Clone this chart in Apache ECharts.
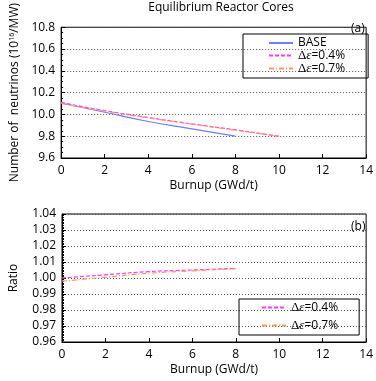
<!DOCTYPE html>
<html><head><meta charset="utf-8">
<script src="https://cdn.jsdelivr.net/npm/echarts@6/dist/echarts.min.js"></script>
<style>html,body{margin:0;padding:0;background:#fff}#c{width:376px;height:381px}</style>
</head><body><div id="c"></div>
<script>
const burnupBase = [0, 2, 4, 6, 8];
const burnupExt = [0, 2, 4, 6, 8, 10];
const baseVals = [10.105, 10.02, 9.935, 9.868, 9.80];
const d04Vals = [10.11, 10.035, 9.972, 9.913, 9.858, 9.80];
const d07Vals = [10.10, 10.03, 9.968, 9.910, 9.855, 9.80];
const ratioX = [0, 2, 4, 6, 8];
const ratio04 = [1.000, 1.002, 1.004, 1.005, 1.006];
const ratio07 = [0.998, 1.0005, 1.003, 1.0045, 1.0058];
const xTicks = [0, 2, 4, 6, 8, 10, 12, 14];

const pair = (xs, ys) => xs.map((x, i) => [x, ys[i]]);
const FONT = 'Open Sans';
const cBase = '#6f7dff', c04 = '#ff3cff', c07 = '#ff9a60';
const rich = {
  n: {fontFamily: FONT, fontSize: 12, color: '#000', lineHeight: 12},
  d: {fontFamily: 'Liberation Serif', fontSize: 13, color: '#000', lineHeight: 12},
  e: {fontFamily: 'Liberation Serif', fontSize: 13, fontStyle: 'italic', color: '#000', lineHeight: 12}
};
const legendFmt = name => name === 'BASE' ? '{n|BASE}' : '{d|Δ}{e|ε}{n|' + name.slice(2) + '}';

const xAxisCommon = (gi) => ({
  gridIndex: gi, type: 'value', min: 0, max: 14, interval: 2,
  name: 'Burnup (GWd/t)', nameLocation: 'middle', nameGap: 22,
  nameTextStyle: {fontFamily: FONT, fontSize: 12, color: '#000'},
  axisLine: {lineStyle: {color: '#000'}},
  axisTick: {inside: true, length: 4, lineStyle: {color: '#000'}},
  axisLabel: {fontFamily: FONT, fontSize: 12, color: '#000', margin: 7},
  splitLine: {show: false}
});

const chart = echarts.init(document.getElementById('c'));
chart.setOption({
  animation: false,
  title: {text: 'Equilibrium Reactor Cores', left: 216, textAlign: 'center', top: -3,
    textStyle: {fontFamily: FONT, fontSize: 12, fontWeight: 'normal', color: '#000'}},
  grid: [
    {left: 61, right: 8, top: 16, height: 142, show: true, borderColor: '#000', borderWidth: 1},
    {left: 61, right: 8, top: 214, height: 128, show: true, borderColor: '#000', borderWidth: 1}
  ],
  xAxis: [xAxisCommon(0), xAxisCommon(1)],
  yAxis: [
    {gridIndex: 0, type: 'value', min: 9.6, max: 10.8, interval: 0.2,
     name: '{n|Number of  neutrinos (10}{s|16}{n|/MW)}', nameLocation: 'middle', nameGap: 40,
     nameTextStyle: {rich: {n: {fontFamily: FONT, fontSize: 12, color: '#000'}, s: {fontFamily: FONT, fontSize: 7, color: '#000', verticalAlign: 'top', padding: [0,0,6,0]}}},
     axisLine: {lineStyle: {color: '#000'}},
     axisTick: {inside: true, length: 4, lineStyle: {color: '#000'}},
     minorTick: {show: true, splitNumber: 4, length: 2, lineStyle: {color: '#000'}},
     axisLabel: {fontFamily: FONT, fontSize: 12, color: '#000', margin: 6, formatter: v => v.toFixed(1)},
     splitLine: {show: true, lineStyle: {color: '#555', type: [1, 2], width: 1}}},
    {gridIndex: 1, type: 'value', min: 0.96, max: 1.04, interval: 0.01,
     name: 'Ratio', nameLocation: 'middle', nameGap: 42,
     nameTextStyle: {fontFamily: FONT, fontSize: 12, color: '#000'},
     axisLine: {lineStyle: {color: '#000'}},
     axisTick: {inside: true, length: 4, lineStyle: {color: '#000'}},
     minorTick: {show: true, splitNumber: 10, length: 2, lineStyle: {color: '#000'}},
     axisLabel: {fontFamily: FONT, fontSize: 12, color: '#000', margin: 6, formatter: v => v.toFixed(2)},
     splitLine: {show: true, lineStyle: {color: '#555', type: [1, 2], width: 1}}}
  ],
  legend: [
    {data: ['BASE', 'Δε=0.4%', 'Δε=0.7%'], left: 243, top: 34, orient: 'vertical',
     itemWidth: 24, itemHeight: 12, itemGap: 0, padding: [3, 23, 3, 25],
     itemStyle: {opacity: 0},
     borderColor: '#000', borderWidth: 1, formatter: legendFmt, textStyle: {rich}},
    {data: ['Δε=0.4%', 'Δε=0.7%'], left: 239, top: 299, orient: 'vertical',
     itemWidth: 24, itemHeight: 12, itemGap: 5, padding: [2, 21, 3, 22],
     itemStyle: {opacity: 0},
     borderColor: '#000', borderWidth: 1, formatter: legendFmt, textStyle: {rich}}
  ],
  series: [
    {name: 'BASE', type: 'line', xAxisIndex: 0, yAxisIndex: 0, data: pair(burnupBase, baseVals),
     showSymbol: false, symbol: 'none', smooth: true, lineStyle: {color: cBase, width: 1.2}, itemStyle: {color: cBase}},
    {name: 'Δε=0.4%', type: 'line', xAxisIndex: 0, yAxisIndex: 0, data: pair(burnupExt, d04Vals),
     showSymbol: false, symbol: 'none', smooth: true, lineStyle: {color: c04, width: 1.2, type: [4, 2]}, itemStyle: {color: c04}},
    {name: 'Δε=0.7%', type: 'line', xAxisIndex: 0, yAxisIndex: 0, data: pair(burnupExt, d07Vals),
     showSymbol: false, symbol: 'none', smooth: true, lineStyle: {color: c07, width: 1.2, type: [5, 2, 1, 2]}, itemStyle: {color: c07}},
    {name: 'Δε=0.4%', type: 'line', xAxisIndex: 1, yAxisIndex: 1, data: pair(ratioX, ratio04),
     showSymbol: false, symbol: 'none', smooth: true, lineStyle: {color: c04, width: 1.2, type: [4, 2]}, itemStyle: {color: c04}},
    {name: 'Δε=0.7%', type: 'line', xAxisIndex: 1, yAxisIndex: 1, data: pair(ratioX, ratio07),
     showSymbol: false, symbol: 'none', smooth: true, lineStyle: {color: c07, width: 1.2, type: [5, 2, 1, 2]}, itemStyle: {color: c07}}
  ],
  graphic: [
    {type: 'text', left: 351, top: 23, style: {text: '(a)', fontFamily: FONT, fontSize: 12, fill: '#000'}},
    {type: 'text', left: 351, top: 221, style: {text: '(b)', fontFamily: FONT, fontSize: 12, fill: '#000'}}
  ]
});
</script></body></html>
